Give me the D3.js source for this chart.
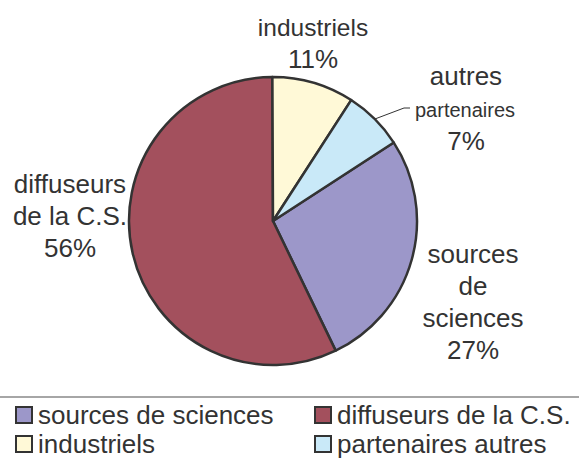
<!doctype html>
<html lang="fr">
<head>
  <meta charset="utf-8">
  <script src="https://cdn.jsdelivr.net/npm/d3@7"></script>
  <style>
    body { margin: 0; background: #fff; }
    text { font-family: "Liberation Sans", Arial, sans-serif; fill: #333; }
  </style>
</head>
<body>
  <svg id="pie" width="579" height="459"></svg>
  <script>
    // categories in legend order (Excel series order)
    var categories = ["sources de sciences", "diffuseurs de la C.S.", "industriels", "partenaires autres"];
    var shares = [27.0, 57.1, 9.2, 6.7];
    // the percentages printed on the chart
    var pctLabels = ["27%", "56%", "11%", "7%"];
    var colors = ["#9c97c9", "#a3505d", "#fff9d7", "#c9e9f8"];

    var svg = d3.select("#pie");
    var cx = 273, cy = 221, r = 144;

    var pie = d3.pie().sort(null)
      .startAngle(57 * Math.PI / 180)
      .endAngle(57 * Math.PI / 180 + 2 * Math.PI);
    var arc = d3.arc().innerRadius(0).outerRadius(r);
    var arcs = pie(shares);

    var g = svg.append("g").attr("transform", "translate(" + cx + "," + cy + ")");
    g.selectAll("path")
      .data(arcs)
      .enter()
      .append("path")
        .attr("d", arc)
        .attr("fill", function(d, i) { return colors[i]; })
        .attr("stroke", "#333")
        .attr("stroke-width", 2.5)
        .attr("stroke-linejoin", "round");

    // data labels, one block per slice (lines, centre x, first baseline, size)
    var labelBlocks = [
      { lines: ["sources", "de", "sciences"], x: 473, y: 263, size: 26 },
      { lines: ["diffuseurs", "de la C.S."], x: 70, y: 193, size: 26 },
      { lines: ["industriels"], x: 313, y: 36, size: 24.5 },
      { lines: ["autres"], x: 466, y: 85, size: 26 }
    ];
    labelBlocks.forEach(function(b, i) {
      var t = svg.append("text").attr("text-anchor", "middle").style("font-size", b.size + "px");
      b.lines.forEach(function(l, k) {
        t.append("tspan").attr("x", b.x).attr("y", b.y + k * 32).text(l);
      });
      var py = b.y + b.lines.length * 32;
      if (i == 3) {
        // the small slice has a smaller middle line
        svg.append("text").attr("text-anchor", "middle").style("font-size", "20px")
          .attr("x", 465).attr("y", 117).text("partenaires");
        py = 150;
      }
      svg.append("text").attr("text-anchor", "middle").style("font-size", "26px")
        .attr("x", b.x).attr("y", py).text(pctLabels[i]);
    });

    // leader line for the small slice
    var a = arcs[3];
    var mid = (a.startAngle + a.endAngle) / 2;
    var px = cx + r * Math.sin(mid), py0 = cy - r * Math.cos(mid);
    svg.append("polyline")
      .attr("points", [[px, py0], [404, 108], [410, 108]].join(" "))
      .attr("fill", "none").attr("stroke", "#333").attr("stroke-width", 1);

    // legend separator
    svg.append("line")
      .attr("x1", 0).attr("x2", 579).attr("y1", 397).attr("y2", 397)
      .attr("stroke", "#888").attr("stroke-width", 1.5);

    var lx = d3.scalePoint().domain([0, 1]).range([16, 315]);
    var ly = d3.scalePoint().domain([0, 1]).range([424, 453]);
    var leg = svg.append("g").selectAll("g")
      .data(categories)
      .enter()
      .append("g")
        .attr("transform", function(d, i) { return "translate(" + lx(i % 2) + "," + ly(Math.floor(i / 2)) + ")"; });
    leg.append("rect")
      .attr("x", 0).attr("y", -17).attr("width", 16).attr("height", 16)
      .attr("fill", function(d, i) { return colors[i]; })
      .attr("stroke", "#333").attr("stroke-width", 2);
    leg.append("text")
      .attr("x", 22).attr("y", 0)
      .style("font-size", "26px")
      .text(function(d) { return d; });
  </script>
</body>
</html>
